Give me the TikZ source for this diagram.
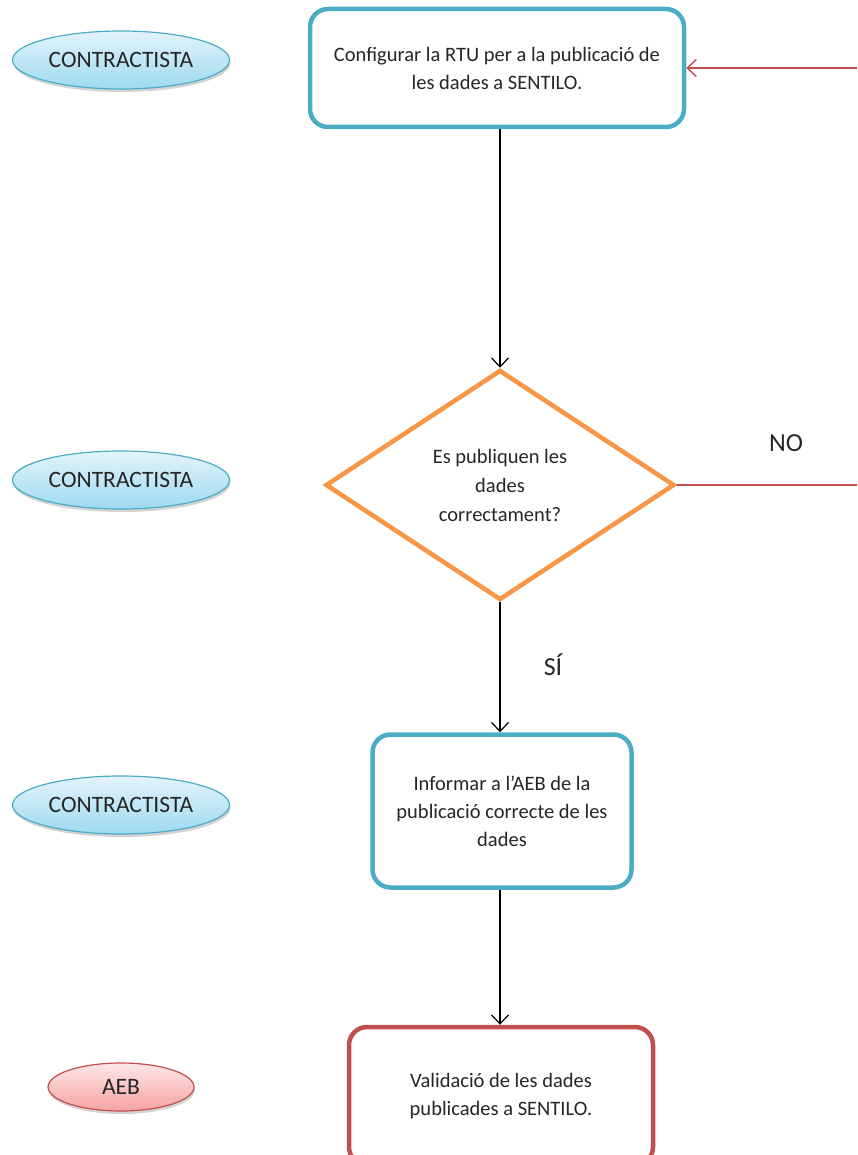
\documentclass[tikz,border=0pt]{standalone}
\usepackage{fontspec}
\setmainfont{Carlito}
\usepackage{tikz}
\usetikzlibrary{shapes.geometric,arrows.meta,shadows}

\definecolor{tealvora}{HTML}{4BACC6}
\definecolor{taronja}{HTML}{F79646}
\definecolor{vermell}{HTML}{C0504D}
\definecolor{textgris}{HTML}{262626}
\definecolor{blaudalt}{HTML}{E3F4FB}
\definecolor{blaubaix}{HTML}{9ED9F0}
\definecolor{rosadalt}{HTML}{FDE6E6}
\definecolor{rosabaix}{HTML}{F5A3A3}

\tikzset{
  actor/.style = {ellipse, draw=tealvora, line width=1.2pt, top color=blaudalt, bottom color=blaubaix,
                  minimum width=217, minimum height=58, text=textgris, font=\fontsize{23.5}{27}\selectfont,
                  drop shadow={shadow xshift=1pt, shadow yshift=-3pt, opacity=.35}},
  actorAEB/.style = {actor, draw=vermell, top color=rosadalt, bottom color=rosabaix,
                  minimum width=146, minimum height=48},
  tasca/.style = {rectangle, rounded corners=18pt, draw=tealvora, line width=4.5pt, fill=white,
                  align=center, text=textgris, font=\fontsize{20.5}{28}\selectfont},
  decisio/.style = {diamond, draw=taronja, line width=4.5pt, align=center, text=textgris,
                  minimum width=349, minimum height=230, inner sep=0pt, font=\fontsize{20.5}{29}\selectfont},
  flux/.style = {line width=1.3pt, -{Straight Barb[length=9pt,width=17pt,line width=1.2pt]}},
  retorn/.style = {draw=vermell, line width=1.6pt},
  etiqueta/.style = {text=textgris, font=\fontsize{26}{30}\selectfont}
}

\begin{document}
\begin{tikzpicture}[x=1pt,y=-1pt]
    \clip (0,0) rectangle (857,1155);

    % actors
    \node[actor] (act1) at (121,60) {CONTRACTISTA};
    \node[actor] (act2) at (121,480) {CONTRACTISTA};
    \node[actor] (act3) at (121,805) {CONTRACTISTA};
    \node[actorAEB] (aeb) at (121,1087) {AEB};

    % passos
    \node[tasca, minimum width=374, minimum height=118] (configurar) at (497,68)
        {Configurar la RTU per a la publicació de\\les dades a SENTILO.};
    \node[decisio] (publiquen) at (500,485) {Es publiquen les\\dades\\correctament?};
    \node[tasca, minimum width=259, minimum height=153] (informar) at (502,811)
        {Informar a l’AEB de la\\publicació correcte de les\\dades};
    \node[tasca, draw=vermell, minimum width=304, minimum height=138] (validacio) at (501,1096)
        {Validació de les dades\\publicades a SENTILO.};

    \draw[flux] (configurar.south -| publiquen) -- (publiquen.north);
    \draw[flux] (publiquen.south) -- (informar.north -| publiquen);
    \draw[flux] (informar.south -| publiquen) -- (validacio.north -| publiquen);

    % cami del NO
    \coordinate (noFi) at (857,485);
    \coordinate (noTorna) at (857,68);
    \draw[retorn] (publiquen.east) -- (noFi);
    \draw[retorn, -{Straight Barb[length=9pt,width=17pt,line width=1.4pt]}] (noTorna) -- (configurar.east);

    \node[etiqueta] (no) at (786,443) {NO};
    \node[etiqueta] (si) at (553,665) {SÍ};

      % \draw[help lines](0,0) grid (857,1155);
  \end{tikzpicture}
\end{document}
